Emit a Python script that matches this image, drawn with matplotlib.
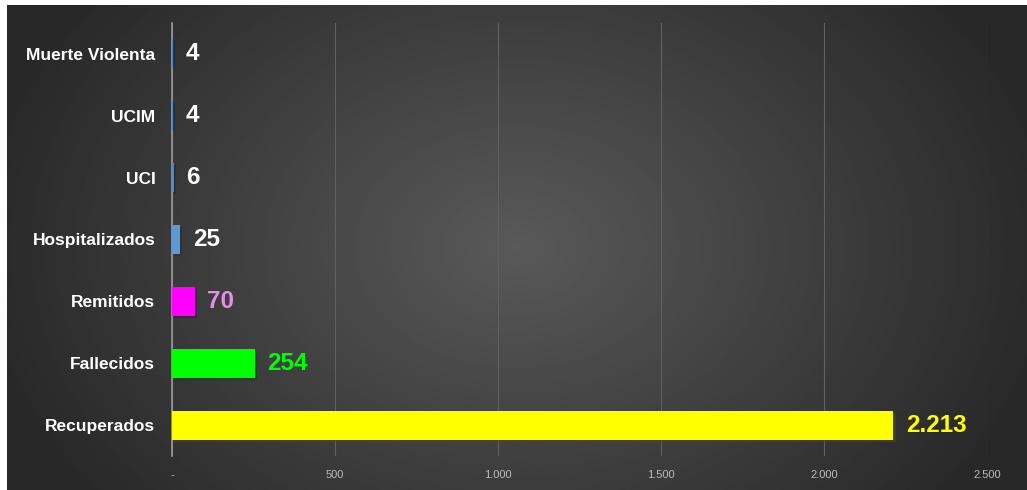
import matplotlib
matplotlib.use("Agg")
import matplotlib.pyplot as plt
import matplotlib.patheffects as pe
import numpy as np

# data (top to bottom as shown)
categories = ['Muerte Violenta', 'UCIM', 'UCI', 'Hospitalizados', 'Remitidos', 'Fallecidos', 'Recuperados']
values = [4, 4, 6, 25, 70, 254, 2213]
bar_colors = ['#4f88c6', '#4f88c6', '#4f88c6', '#5b9bd5', '#ff00ff', '#00ff00', '#ffff00']
label_colors = ['white', 'white', 'white', 'white', '#e58ee5', '#00ff00', '#ffff00']
xticks = [0, 500, 1000, 1500, 2000, 2500]
xtick_labels = ['-', '500', '1.000', '1.500', '2.000', '2.500']

plt.rcParams['font.family'] = ['Liberation Sans', 'DejaVu Sans']

fig = plt.figure(figsize=(10.27, 4.90), dpi=100)
fig.patch.set_facecolor('white')

# dark radial-gradient background panel
bg = fig.add_axes([7 / 1027, 0, 1 - 7 / 1027, 1 - 5 / 490])
yy, xx = np.mgrid[0:1:200j, 0:1:400j]
r = np.sqrt(((xx - 0.5) / 0.7) ** 2 + ((yy - 0.5) / 1.1) ** 2)
shade = np.clip(0.35 - 0.25 * r, 0.16, 0.35)
bg.imshow(shade, cmap='gray', vmin=0, vmax=1, aspect='auto', extent=[0, 1, 0, 1])
bg.axis('off')

ax = fig.add_axes([172 / 1027, 1 - 456 / 490, 815 / 1027, 433 / 490])
ax.patch.set_alpha(0)

y = np.arange(len(categories))
bars = ax.barh(y, values, height=0.47, color=bar_colors, zorder=3)
for b in bars:
    b.set_path_effects([pe.SimplePatchShadow(offset=(1.5, -1.5), alpha=0.5), pe.Normal()])

ax.set_yticks(y)
ax.set_yticklabels(categories, color='white', fontsize=12.5, fontweight='bold')
ax.invert_yaxis()
ax.set_ylim(len(categories) - 0.5, -0.5)
ax.set_xlim(0, 2500)
ax.set_xticks(xticks)
ax.set_xticklabels(xtick_labels, color='#bbbbbb', fontsize=8)
ax.tick_params(axis='both', length=0)
ax.tick_params(axis='x', pad=10)
ax.tick_params(axis='y', pad=12)

ax.grid(axis='x', color='#606060', linewidth=0.8, zorder=0)
for s in ['top', 'right', 'bottom']:
    ax.spines[s].set_visible(False)
ax.spines['left'].set_color('#9a9a9a')
ax.spines['left'].set_linewidth(1.2)

for b, v, c in zip(bars, values, label_colors):
    txt = f'{v:,}'.replace(',', '.')
    ax.annotate(txt, xy=(b.get_width(), b.get_y() + b.get_height() / 2),
                xytext=(9, 0), textcoords='offset points',
                ha='left', va='center', fontsize=17.5, fontweight='bold', color=c)

fig.savefig('out.png', dpi=100, facecolor=fig.get_facecolor())
